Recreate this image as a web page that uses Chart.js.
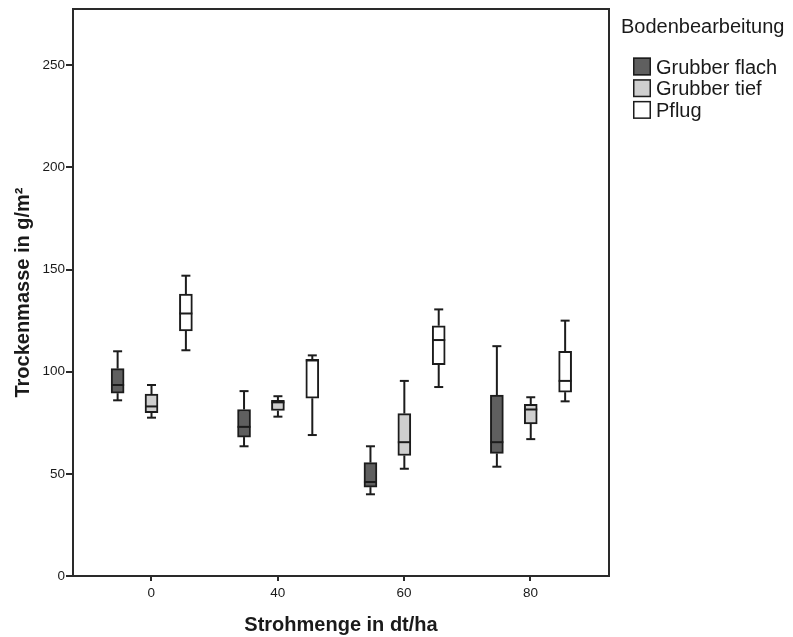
<!DOCTYPE html>
<html><head><meta charset="utf-8">
<script src="https://cdn.jsdelivr.net/npm/chart.js@4.4.1/dist/chart.umd.min.js"></script>
<style>html,body{margin:0;padding:0;background:#fff}#wrap{width:793px;height:637px;position:relative}</style>
</head><body><div id="wrap"><canvas id="c" width="793" height="637"></canvas></div>
<script>
// ---- data ----
const categories = ['0', '40', '60', '80'];
const seriesNames = ['Grubber flach', 'Grubber tief', 'Pflug'];
const yTickValues = [0, 50, 100, 150, 200, 250];

const flachMin = [86, 63.5, 40, 53.5];
const flachQ1  = [89.5, 68, 43.5, 60];
const flachMed = [93.5, 73, 46, 65.5];
const flachQ3  = [101.5, 81.5, 55.5, 88.5];
const flachMax = [110, 90.5, 63.5, 112.5];

const tiefMin = [77.5, 78, 52.5, 67];
const tiefQ1  = [80, 81, 59, 74.5];
const tiefMed = [83, 85, 65.5, 81.5];
const tiefQ3  = [89, 86, 79.5, 84];
const tiefMax = [93.5, 88, 95.5, 87.5];

const pflugMin = [110.5, 69, 92.5, 85.5];
const pflugQ1  = [120, 87, 103.5, 90];
const pflugMed = [128.5, 105.5, 115.5, 95.5];
const pflugQ3  = [138, 106, 122.5, 110];
const pflugMax = [147, 108, 130.5, 125];

// ---- styling / layout ----
const fills = ['#5f5f5f', '#cfcfcf', '#ffffff'];
const groupOffsets = [-0.266, 0.002, 0.274];
const inkColor = '#1c1c1c';
const boxW = 13, capW = 9;

const stats = [
  {min: flachMin, q1: flachQ1, med: flachMed, q3: flachQ3, max: flachMax},
  {min: tiefMin, q1: tiefQ1, med: tiefMed, q3: tiefQ3, max: tiefMax},
  {min: pflugMin, q1: pflugQ1, med: pflugMed, q3: pflugQ3, max: pflugMax}
];

const datasets = stats.map((s, di) => ({
  label: seriesNames[di],
  data: s.q1.map((q, i) => ({x: i + groupOffsets[di], y: [q, s.q3[i]]})),
  backgroundColor: fills[di],
  borderColor: inkColor,
  borderWidth: 2,
  borderSkipped: false,
  barThickness: boxW,
  grouped: false
}));

const boxPlugin = {
  id: 'boxExtras',
  afterDatasetsDraw(chart) {
    const ctx = chart.ctx, xs = chart.scales.x, ys = chart.scales.y;
    ctx.save();
    ctx.strokeStyle = inkColor;
    ctx.lineWidth = 2;
    const line = (x1, y1, x2, y2) => { ctx.beginPath(); ctx.moveTo(x1, y1); ctx.lineTo(x2, y2); ctx.stroke(); };
    stats.forEach((s, di) => {
      s.med.forEach((m, i) => {
        const cx = xs.getPixelForValue(i + groupOffsets[di]);
        const yMin = ys.getPixelForValue(s.min[i]);
        const yQ1 = ys.getPixelForValue(s.q1[i]);
        const yQ3 = ys.getPixelForValue(s.q3[i]);
        const yMax = ys.getPixelForValue(s.max[i]);
        const yMed = ys.getPixelForValue(m);
        line(cx, yQ3, cx, yMax);
        line(cx - capW / 2, yMax, cx + capW / 2, yMax);
        line(cx, yQ1, cx, yMin);
        line(cx - capW / 2, yMin, cx + capW / 2, yMin);
        line(cx - boxW / 2, yMed, cx + boxW / 2, yMed);
      });
    });
    ctx.restore();
  },
  afterDraw(chart) {
    const ctx = chart.ctx, a = chart.chartArea;
    ctx.save();
    ctx.strokeStyle = '#2a2a2a';
    ctx.lineWidth = 2;
    ctx.beginPath();
    ctx.moveTo(a.left, a.top); ctx.lineTo(a.right, a.top); ctx.lineTo(a.right, a.bottom);
    ctx.stroke();
    // legend
    ctx.fillStyle = '#1a1a1a';
    ctx.font = '20px "Liberation Sans", Arial, sans-serif';
    ctx.textBaseline = 'alphabetic';
    ctx.textAlign = 'left';
    ctx.fillText('Bodenbearbeitung', 621, 33);
    seriesNames.forEach((name, i) => {
      const top = 57.5 + i * 21.7;
      ctx.fillStyle = fills[i];
      ctx.fillRect(633, top, 18, 18);
      ctx.strokeStyle = inkColor;
      ctx.lineWidth = 1.5;
      ctx.strokeRect(633.75, top + 0.75, 16.5, 16.5);
      ctx.fillStyle = '#1a1a1a';
      ctx.fillText(name, 656, top + 16);
    });
    ctx.restore();
  }
};

const tickFont = {family: '"Liberation Sans Narrow", "Arial Narrow", "Liberation Sans", sans-serif', size: 13.5};
const titleFont = {family: '"Liberation Sans", Arial, sans-serif', size: 20, weight: 'bold'};

new Chart(document.getElementById('c'), {
  type: 'bar',
  data: {datasets},
  plugins: [boxPlugin],
  options: {
    responsive: false,
    devicePixelRatio: 1,
    animation: false,
    layout: {padding: {top: 7.5, right: 184, left: 0, bottom: 0}},
    plugins: {legend: {display: false}, tooltip: {enabled: false}},
    scales: {
      x: {
        type: 'linear',
        offset: false,
        min: -0.619,
        max: 3.621,
        afterBuildTicks: s => { s.ticks = categories.map((c, i) => ({value: i})); },
        afterFit: s => { s.height = 61; },
        ticks: {
          callback: v => categories[v],
          font: tickFont, color: '#1a1a1a', padding: 4, maxRotation: 0, autoSkip: false
        },
        grid: {display: true, offset: false, drawOnChartArea: false, drawTicks: true, tickLength: 5, lineWidth: 2, color: '#2a2a2a'},
        border: {display: true, color: '#2a2a2a', width: 2},
        title: {display: true, text: 'Strohmenge in dt/ha', font: titleFont, color: '#1a1a1a', padding: {top: 2, bottom: 0}}
      },
      y: {
        type: 'linear',
        min: 0,
        max: 277.5,
        afterBuildTicks: s => { s.ticks = yTickValues.map(v => ({value: v})); },
        afterFit: s => { s.width = 73; },
        ticks: {font: tickFont, color: '#1a1a1a', padding: 1},
        grid: {display: true, drawOnChartArea: false, drawTicks: true, tickLength: 7, lineWidth: 2, color: '#2a2a2a'},
        border: {display: true, color: '#2a2a2a', width: 2},
        title: {display: true, text: 'Trockenmasse in g/m²', font: titleFont, color: '#1a1a1a', padding: {top: 11, bottom: 0}}
      }
    }
  }
});
</script>
</body></html>
